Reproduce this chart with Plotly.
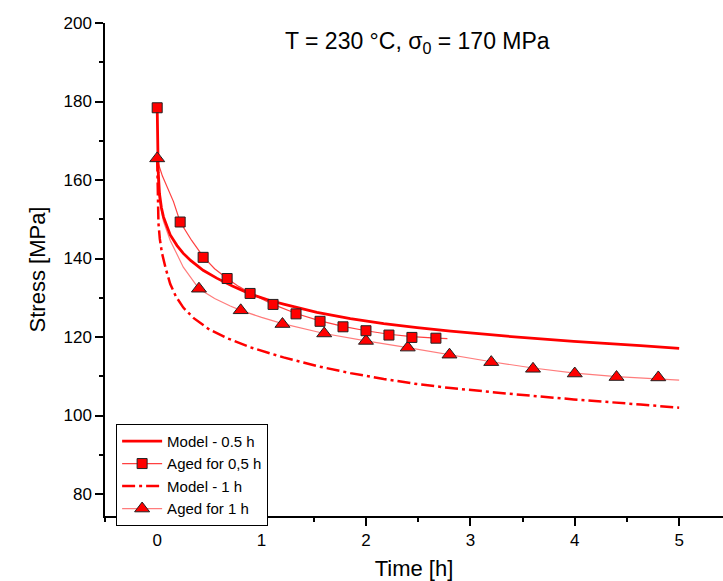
import plotly.graph_objects as go

# ---- data ----
model05_t = [0, 0.003, 0.01, 0.022, 0.04, 0.06, 0.093, 0.125, 0.19, 0.25, 0.32, 0.44, 0.57, 0.72,
             0.89, 1.08, 1.21, 1.53, 1.85, 2.17, 2.49, 2.81, 3.35, 3.99, 4.63, 5.0]
model05_s = [178.3, 167.0, 162.0, 156.5, 153.0, 150.6, 148.0, 146.0, 143.3, 141.3, 139.5, 137.0, 135.0, 133.0,
             131.0, 129.3, 128.4, 126.3, 124.7, 123.4, 122.4, 121.5, 120.2, 118.9, 117.8, 117.1]

model1_t = [0, 0.004, 0.012, 0.025, 0.045, 0.08, 0.125, 0.18, 0.25, 0.35, 0.5, 0.67, 0.89,
            1.21, 1.53, 1.85, 2.17, 2.49, 2.81, 3.35, 3.99, 4.63, 5.0]
model1_s = [165.5, 155.0, 149.0, 145.0, 141.5, 137.6, 133.5, 130.3, 127.5, 124.8, 121.9, 119.7, 117.4,
            114.8, 112.6, 110.8, 109.3, 108.0, 107.0, 105.6, 104.1, 102.8, 102.0]

aged05_t = [0, 0.22, 0.44, 0.67, 0.89, 1.11, 1.33, 1.56, 1.78, 2.0, 2.22, 2.44, 2.67]
aged05_s = [178.4, 149.3, 140.3, 134.9, 131.1, 128.3, 125.9, 124.0, 122.6, 121.6, 120.5, 119.9, 119.7]

fit05_t = [0, 0.013, 0.05, 0.093, 0.156, 0.22, 0.33, 0.44, 0.55, 0.67, 0.78, 0.89, 1.11, 1.33,
           1.56, 1.78, 2.0, 2.22, 2.44, 2.67, 2.78]
fit05_s = [165.5, 164.0, 161.0, 158.5, 154.5, 149.3, 144.6, 140.5, 137.4, 134.9, 132.9, 131.2, 128.3, 126.0,
           124.1, 122.7, 121.6, 120.7, 120.1, 119.7, 119.6]

aged1_t = [0, 0.4, 0.8, 1.2, 1.6, 2.0, 2.4, 2.8, 3.2, 3.6, 4.0, 4.4, 4.8]
aged1_s = [165.5, 132.3, 126.8, 123.3, 120.9, 119.0, 117.3, 115.5, 113.6, 111.9, 110.7, 109.8, 109.7]

fit1_t = [0, 0.005, 0.02, 0.06, 0.125, 0.25, 0.4, 0.55, 0.7, 0.8, 1.0, 1.2, 1.6, 2.0, 2.4, 2.8,
          3.2, 3.6, 4.0, 4.4, 4.8, 5.0]
fit1_s = [165.5, 160.0, 155.0, 149.5, 144.6, 137.8, 132.3, 129.8, 127.9, 126.8, 125.0, 123.4, 120.9, 119.0,
          117.3, 115.5, 113.7, 112.1, 110.8, 109.9, 109.3, 109.0]

names = ["Model - 0.5 h", "Aged for 0,5 h", "Model - 1 h", "Aged for 1 h"]
title_text = "T = 230 °C, σ<sub>0</sub> = 170 MPa"

RED = "#ff0000"
FIT05 = "rgba(255,30,30,0.85)"
FIT1 = "rgba(255,110,110,0.9)"
FONT = "Arial, 'Liberation Sans', sans-serif"

fig = go.Figure()

# fitted thin curves (no legend)
fig.add_trace(go.Scatter(x=fit1_t, y=fit1_s, mode="lines", line=dict(color=FIT1, width=1.2),
                         showlegend=False, hoverinfo="skip"))
fig.add_trace(go.Scatter(x=fit05_t, y=fit05_s, mode="lines", line=dict(color=FIT05, width=1.2),
                         showlegend=False, hoverinfo="skip"))

# model curves
fig.add_trace(go.Scatter(x=model1_t, y=model1_s, mode="lines", name=names[2], legendrank=3,
                         line=dict(color=RED, width=2.5, dash="13px,4px,3px,4px")))
fig.add_trace(go.Scatter(x=model05_t, y=model05_s, mode="lines", name=names[0], legendrank=1,
                         line=dict(color=RED, width=2.8)))

# markers
fig.add_trace(go.Scatter(x=aged1_t, y=aged1_s, mode="markers", showlegend=False,
                         marker=dict(symbol="triangle-up", size=13, color=RED,
                                     line=dict(color="#222", width=1))))
fig.add_trace(go.Scatter(x=aged05_t, y=aged05_s, mode="markers", showlegend=False,
                         marker=dict(symbol="square", size=10, color=RED,
                                     line=dict(color="#222", width=1))))

# legend entries for aged series
fig.add_trace(go.Scatter(x=[None], y=[None], mode="lines+markers", name=names[1], legendrank=2,
                         line=dict(color=FIT05, width=1.2),
                         marker=dict(symbol="square", size=10, color=RED, line=dict(color="#222", width=1))))
fig.add_trace(go.Scatter(x=[None], y=[None], mode="lines+markers", name=names[3], legendrank=4,
                         line=dict(color=FIT1, width=1.2),
                         marker=dict(symbol="triangle-up", size=13, color=RED, line=dict(color="#222", width=1))))

axis_common = dict(showline=True, linecolor="black", linewidth=1.5, ticks="outside", ticklen=8,
                   tickwidth=1.5, tickcolor="black", showgrid=False, zeroline=False,
                   tickfont=dict(family=FONT, size=17, color="black"))

fig.update_xaxes(range=[-0.5, 5.42], dtick=1, tick0=0,
                 minor=dict(ticks="outside", ticklen=4, tickwidth=1.5, tickcolor="black", dtick=0.5),
                 title=dict(text="Time [h]", font=dict(family=FONT, size=22, color="black"), standoff=12),
                 **axis_common)
fig.update_yaxes(range=[74.4, 200], dtick=20, tick0=0,
                 minor=dict(ticks="outside", ticklen=4, tickwidth=1.5, tickcolor="black", dtick=10),
                 title=dict(text="Stress [MPa]", font=dict(family=FONT, size=22, color="black"), standoff=12),
                 **axis_common)

fig.add_annotation(text=title_text, xref="paper", yref="paper", x=0.506, y=0.961,
                   xanchor="center", yanchor="middle", showarrow=False,
                   font=dict(family=FONT, size=23, color="black"))

fig.update_layout(
    width=723, height=581,
    margin=dict(l=105, r=0, t=23, b=65),
    paper_bgcolor="white", plot_bgcolor="white",
    font=dict(family=FONT, color="black"),
    legend=dict(x=0.018, y=0.187, xanchor="left", yanchor="top", bgcolor="white",
                bordercolor="black", borderwidth=1, font=dict(family=FONT, size=15, color="black"),
                tracegroupgap=0, itemwidth=40),
)

fig.write_html("out.html")
